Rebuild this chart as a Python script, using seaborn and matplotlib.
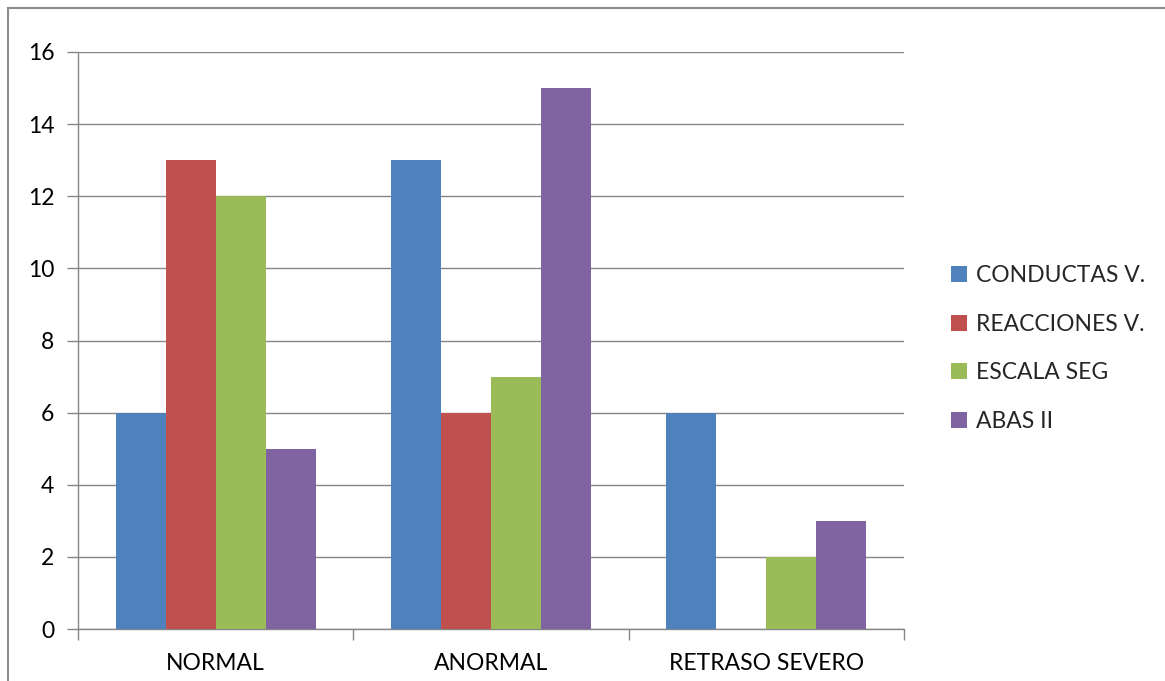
import matplotlib
matplotlib.use("Agg")
import matplotlib.pyplot as plt
from matplotlib.patches import Rectangle, Patch
import seaborn as sns
import pandas as pd

categories = ["NORMAL", "ANORMAL", "RETRASO SEVERO"]
series = ["CONDUCTAS V.", "REACCIONES V.", "ESCALA SEG", "ABAS II"]
conductas = [6, 13, 6]
reacciones = [13, 6, 0]
escala = [12, 7, 2]
abas = [5, 15, 3]
y_ticks = [0, 2, 4, 6, 8, 10, 12, 14, 16]

colors = ["#4F81BD", "#C0504D", "#9BBB59", "#8064A2"]

rows = []
for name, vals in zip(series, [conductas, reacciones, escala, abas]):
    for cat, v in zip(categories, vals):
        rows.append({"categoria": cat, "serie": name, "valor": v})
df = pd.DataFrame(rows)

sns.set_theme(style="white")
plt.rcParams["font.family"] = ["Lato", "DejaVu Sans"]

W, H = 1165, 681
fig = plt.figure(figsize=(W / 100, H / 100), dpi=100)
ax = fig.add_axes([78 / W, (H - 629) / H, (904 - 78) / W, (629 - 52) / H])

sns.barplot(data=df, x="categoria", y="valor", hue="serie", order=categories,
            hue_order=series, palette=colors, width=0.727, gap=0, saturation=1,
            errorbar=None, ax=ax, legend=False, zorder=3, linewidth=0,
            edgecolor="none")

grid_c = "#868686"
ax.set_ylim(0, 16)
ax.set_xlim(-0.5, 2.5)
ax.set_yticks(y_ticks)
ax.yaxis.grid(True, color=grid_c, linewidth=1, zorder=0)
ax.set_axisbelow(True)
for s in ["top", "right"]:
    ax.spines[s].set_visible(False)
for s in ["left", "bottom"]:
    ax.spines[s].set_color(grid_c)
    ax.spines[s].set_linewidth(1)
ax.set_xlabel("")
ax.set_ylabel("")
ax.tick_params(axis="y", which="major", length=8, width=1, color=grid_c,
               left=True, labelsize=16.5, pad=9, labelcolor="black")
ax.tick_params(axis="x", which="major", length=0, labelsize=16.5, pad=17,
               labelcolor="black")
ax.set_xticks([-0.5, 0.5, 1.5, 2.5], minor=True)
ax.tick_params(axis="x", which="minor", length=8, width=1, color=grid_c,
               bottom=True)

handles = [Patch(facecolor=c, edgecolor="none") for c in colors]
fig.legend(handles, series, loc="upper left", bbox_to_anchor=(942 / W, 1 - 256 / H),
           frameon=False, fontsize=16.5, handlelength=0.7, handleheight=0.7,
           handletextpad=0.4, labelspacing=1.2, borderaxespad=0)

fig.patches.append(Rectangle((8 / W, -0.1), 1.2, (H - 8) / H + 0.1,
                             transform=fig.transFigure, fill=False,
                             edgecolor="#8C8C8C", linewidth=1.5))

fig.savefig("out.png", dpi=100)
